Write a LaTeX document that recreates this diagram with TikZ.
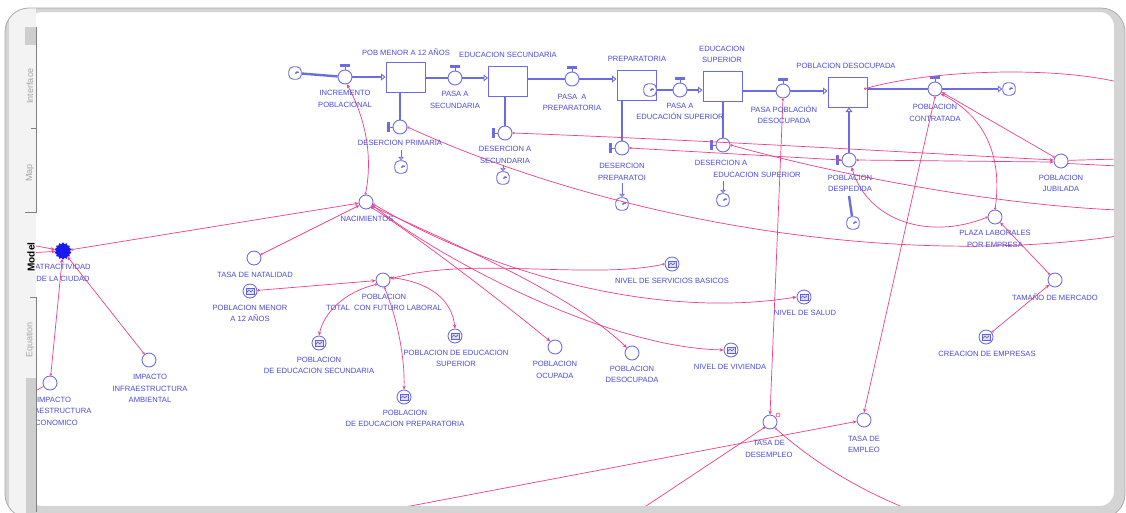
\documentclass[tikz,border=0pt]{standalone}
\usepackage{fontspec}
\setmainfont{Liberation Sans}
\usetikzlibrary{arrows.meta,shapes.geometric,shapes.symbols}

\definecolor{flowblue}{RGB}{108,108,226}
\definecolor{lblblue}{RGB}{74,74,216}
\definecolor{cnvblue}{RGB}{96,96,222}
\definecolor{linkpink}{RGB}{236,64,142}
\definecolor{atrblue}{RGB}{26,26,238}
\definecolor{framegrey}{RGB}{212,212,212}
\definecolor{framedark}{RGB}{170,170,170}
\definecolor{stripgrey}{RGB}{243,243,243}
\definecolor{tabblock}{RGB}{206,206,206}
\definecolor{tabline}{RGB}{128,128,128}
\definecolor{tabtext}{RGB}{165,165,165}

\newcommand\lblfont{\fontsize{7.6}{11.5}\selectfont}
\newcommand\handleup[1]{%
  \draw[flowblue, line width=0.9pt] (#1.north) -- ++(0,-3);
  \fill[flowblue] (#1.north) ++(-5,-3) rectangle ++(10,-2.2);}
\newcommand\handleleft[1]{%
  \draw[flowblue, line width=0.9pt] (#1.west) -- ++(-3,0);
  \fill[flowblue] (#1.west) ++(-3,-5) rectangle ++(-2.2,10);}

\begin{document}
\begin{tikzpicture}[x=1pt,y=-1pt,
  lbl/.style={text=lblblue, font=\lblfont, align=center, inner sep=0pt},
  stock/.style={draw=flowblue, line width=1pt, fill=white, minimum width=39pt, minimum height=30pt, inner sep=0pt},
  conv/.style={circle, draw=cnvblue, line width=0.8pt, fill=white, minimum size=14pt, inner sep=0pt},
  gconv/.style={conv, path picture={
      \draw[cnvblue, line width=0.5pt, fill=cnvblue!22, shift={(path picture bounding box.center)}] (-4.2,-2.8) rectangle (4.2,2.8);
      \draw[cnvblue!70!black, line width=0.45pt, shift={(path picture bounding box.center)}] (-3,1.2) -- (-1.2,-1) -- (0.8,0.8) -- (3,-1.2);}},
  valve/.style={circle, draw=flowblue, line width=0.9pt, fill=white, minimum size=14pt, inner sep=0pt},
  sink/.style={rectangle, rounded corners=4.5pt, draw=flowblue, line width=0.9pt, fill=white, minimum size=12.5pt, inner sep=0pt,
    path picture={\foreach \a in {0,90,180,270}
      \draw[flowblue, line width=0.8pt, shift={(path picture bounding box.center)}, rotate=\a] (0.6,0.4) .. controls (1.8,-1.2) .. (3.6,-0.6);}},
  blob/.style={star, star points=14, star point ratio=1.22, fill=atrblue, draw=atrblue, line width=0.8pt, minimum size=16pt, inner sep=0pt},
  pipe/.style={draw=flowblue, line width=2.4pt},
  thinpipe/.style={draw=flowblue, line width=1pt, -{Triangle[open, length=3.5pt, width=5.5pt, line width=0.8pt]}},
  tostock/.style={-{Triangle[open, length=4.5pt, width=7pt, line width=0.9pt]}},
  link/.style={draw=linkpink, line width=0.7pt, {Circle[open, length=2.4pt, line width=0.6pt]}-{Stealth[length=4pt, width=3.4pt]}},
  linkin/.style={draw=linkpink, line width=0.7pt, -{Stealth[length=4pt, width=3.4pt]}},
  ray/.style={draw=linkpink, line width=0.7pt, {Circle[open, length=2.4pt, line width=0.6pt]}-},
  plain/.style={draw=linkpink, line width=0.7pt},
  tabtxt/.style={text=tabtext, font=\fontsize{9}{10}\selectfont, rotate=90, inner sep=0pt}
]
\useasboundingbox (0,0) rectangle (1126,512);
\fill[white] (0,0) rectangle (1126,512);

% ---------- stocks ----------
\node[stock] (s1) at (405.5,77) {};
\node[stock] (s2) at (508,81) {};
\node[stock] (s3) at (636.5,85) {};
\node[stock] (s4) at (722.5,86) {};
\node[stock] (s5) at (847.5,92) {};

% ---------- clouds ----------
\node[sink] (k0) at (295,73) {};
\node[sink] (k1) at (650,90) {};
\node[sink] (k2) at (1009,89) {};
\node[sink] (k3) at (401,167) {};
\node[sink] (k4) at (503,178) {};
\node[sink] (k5) at (622,204) {};
\node[sink] (k6) at (723,200) {};
\node[sink] (k7) at (853,223) {};

% ---------- valves ----------
\node[valve] (v1) at (345,77) {};
\node[valve] (v2) at (455,78) {};
\node[valve] (v3) at (572,79) {};
\node[valve] (v4) at (680,90) {};
\node[valve] (v5) at (783,91) {};
\node[valve] (v6) at (935,89) {};
\node[valve] (d1) at (400,127) {};
\node[valve] (d2) at (505,133) {};
\node[valve] (d3) at (622,148) {};
\node[valve] (d4) at (723,145) {};
\node[valve] (d5) at (849,160) {};

% ---------- pipes ----------
\draw[pipe] (k0) -- (v1);
\draw[pipe, tostock] (v1) -- (v1 -| s1.west);
\draw[pipe] (s1.east |- v2) -- (v2);
\draw[pipe, tostock] (v2) -- (v2 -| s2.west);
\draw[pipe] (s2.east |- v3) -- (v3);
\draw[pipe, tostock] (v3) -- (v3 -| s3.west);
\draw[pipe] (k1) -- (v4);
\draw[pipe, tostock] (v4) -- (v4 -| s4.west);
\draw[pipe] (s4.east |- v5) -- (v5);
\draw[pipe, tostock] (v5) -- (v5 -| s5.west);
\draw[pipe] (s5.east |- v6) -- (v6);
\draw[pipe, tostock] (v6) -- (k2);

\draw[pipe] (s1.south -| d1) -- (d1);
\draw[pipe] (s2.south -| d2) -- (d2);
\draw[pipe] (s3.south -| d3) -- (d3);
\draw[pipe] (s4.south -| d4) -- (d4);
\coordinate (d1b) at (401,150);
\coordinate (d2b) at (503,165);
\coordinate (d3b) at (622,183);
\coordinate (d4b) at (723,181);
\draw[thinpipe] (d1b) -- (k3);
\draw[thinpipe] (d2b) -- (k4);
\draw[thinpipe] (d3b) -- (k5);
\draw[thinpipe] (d4b) -- (k6);
\coordinate (d5b) at (849,196);
\draw[pipe] (k7) -- (d5b);
\draw[pipe, tostock] (d5) -- (d5 |- s5.south);

\handleup{v1} \handleup{v2} \handleup{v3} \handleup{v4} \handleup{v5} \handleup{v6}
\handleleft{d1} \handleleft{d2} \handleleft{d3} \handleleft{d4} \handleleft{d5}

% ---------- converters ----------
\node[conv] (nac) at (366,202) {};
\node[blob] (atr) at (63,251) {};
\node[conv] (tn) at (254,258) {};
\node[gconv] (pm12) at (250,291) {};
\node[conv] (ptot) at (383,280) {};
\node[gconv] (pes) at (319,343) {};
\node[gconv] (pep) at (404,397) {};
\node[gconv] (pesu) at (455,336) {};
\node[conv] (poc) at (555,347) {};
\node[conv] (pdc) at (632,353) {};
\node[gconv] (nsb) at (672,264) {};
\node[gconv] (nviv) at (731,350) {};
\node[gconv] (nsal) at (804,297) {};
\node[conv] (tdes) at (770,422) {};
\node[conv] (temp) at (864,420) {};
\node[conv] (plaza) at (995,217) {};
\node[conv] (tam) at (1055,280) {};
\node[gconv] (crea) at (986,337) {};
\node[conv] (jub) at (1061,161) {};
\node[conv] (iia) at (149,360) {};
\node[conv] (iie) at (50,383) {};

% ---------- free ends ----------
\coordinate (e1) at (26,244);
\coordinate (e2) at (26,253);
\coordinate (e3) at (26,396);
\coordinate (e4) at (1118,236);
\coordinate (e5) at (1118,159);
\coordinate (e6) at (1118,166);
\coordinate (e7) at (1118,210);
\coordinate (e8) at (1118,82);
\coordinate (e9) at (368,514);
\coordinate (e10) at (634,514);
\coordinate (e11) at (920,514);
\coordinate (s5src) at (864,89);

% ---------- connectors ----------
\draw[link] (atr) -- (nac);
\draw[link] (tn) -- (nac);
\draw[link] (nac.95) .. controls (374,150) and (362,112) .. (v1.-75);
\draw[link] (iia) -- (atr);
\draw[link] (iie) -- (atr);
\draw[linkin] (e1) -- (atr);
\draw[linkin] (e2) -- (atr);
\draw[plain] (iie) -- (e3);
\draw[link] (pm12) -- (ptot);
\draw[link] (ptot.215) .. controls (345,292) and (324,312) .. (pes.north);
\draw[link] (ptot.280) .. controls (398,320) and (405,360) .. (pep.north);
\draw[link] (ptot.20) .. controls (430,282) and (452,300) .. (pesu.north);
\draw[link] (nsb.west) .. controls (590,280) and (470,256) .. (ptot.8);
\draw[link] (nac.-45) .. controls (410,232) and (490,292) .. (poc.130);
\draw[link] (nac.-35) .. controls (440,238) and (570,292) .. (pdc.135);
\draw[link] (nac.-25) .. controls (430,252) and (600,347) .. (nviv.west);
\draw[link] (nac.-15) .. controls (470,262) and (640,322) .. (nsal.west);
\draw[ray] (d1.east) .. controls (600,215) and (880,270) .. (e4);
\draw[link] (d2.east) .. controls (700,140) and (900,152) .. (jub.172);
\draw[link] (d3.east) -- (d5.west);
\draw[link] (d5.east) -- (jub.188);
\draw[plain] (jub.5) -- (e5);
\draw[plain] (jub.-20) -- (e6);
\draw[ray] (d4.east) .. controls (850,178) and (1000,205) .. (e7);
\draw[link] (v5.south) -- (tdes.north);
\draw[link] (v6.south) -- (temp.north);
\draw[link] (plaza.north) .. controls (1002,160) and (988,118) .. (v6.-40);
\draw[link] (jub.150) -- (v6.-25);
\draw[link] (plaza.west) .. controls (930,240) and (868,222) .. (d5.-70);
\draw[link] (tam) -- (plaza);
\draw[link] (crea) -- (tam);
\draw[ray] (s5src) .. controls (930,70) and (1050,66) .. (e8);
\draw[linkin] (e9) -- (temp);
\draw[ray] (tdes.225) -- (e10);
\draw[ray] (tdes.-50) .. controls (820,468) and (870,495) .. (e11);
\node[circle, draw=linkpink, line width=0.6pt, minimum size=4pt, inner sep=0pt] (tdesdot) at (778,415) {};

% ---------- labels ----------
\node[lbl] (l-s1) at (406,52) {POB MENOR A 12 AÑOS};
\node[lbl] (l-s2) at (508,55) {EDUCACION SECUNDARIA};
\node[lbl] (l-s3) at (637,59) {PREPARATORIA};
\node[lbl] (l-s4) at (722,54.5) {EDUCACION\\SUPERIOR};
\node[lbl] (l-s5) at (846,66) {POBLACION DESOCUPADA};
\node[lbl] (l-v1) at (345,99) {INCREMENTO\\POBLACIONAL};
\node[lbl] (l-v2) at (455,100) {PASA A\\SECUNDARIA};
\node[lbl] (l-v3) at (572,102.5) {PASA~ A\\PREPARATORIA};
\node[lbl] (l-v4) at (680,111.5) {PASA A\\EDUCACIÓN SUPERIOR};
\node[lbl] (l-v5) at (784,114.5) {PASA POBLACIÓN\\DESOCUPADA};
\node[lbl] (l-v6) at (935,113) {POBLACION\\CONTRATADA};
\node[lbl] (l-d1) at (400,143) {DESERCION PRIMARIA};
\node[lbl] (l-d2) at (505,155) {DESERCION A\\SECUNDARIA};
\node[lbl] (l-d3) at (622,172) {DESERCION\\PREPARATOI};
\node[lbl] (l-d4a) at (721,163) {DESERCION A};
\node[lbl] (l-d4b) at (757,174.5) {EDUCACION SUPERIOR};
\node[lbl] (l-d5) at (850,183.5) {POBLACION\\DESPEDIDA};
\node[lbl] (l-nac) at (367,219) {NACIMIENTOS};
\node[lbl] (l-atr) at (63,273) {ATRACTIVIDAD\\DE LA CIUDAD};
\node[lbl] (l-tn) at (255,275) {TASA DE NATALIDAD};
\node[lbl] (l-pm12) at (250,313.5) {POBLACION MENOR\\A 12 AÑOS};
\node[lbl] (l-ptot) at (384,302.5) {POBLACION\\TOTAL~ CON FUTURO LABORAL};
\node[lbl] (l-pes) at (319,365.5) {POBLACION\\DE EDUCACION SECUNDARIA};
\node[lbl] (l-pep) at (405,418.5) {POBLACION\\DE EDUCACION PREPARATORIA};
\node[lbl] (l-pesu) at (456,358.5) {POBLACION DE EDUCACION\\SUPERIOR};
\node[lbl] (l-poc) at (555,370) {POBLACION\\OCUPADA};
\node[lbl] (l-pdc) at (632,374.5) {POBLACION\\DESOCUPADA};
\node[lbl] (l-nsb) at (672,281) {NIVEL DE SERVICIOS BASICOS};
\node[lbl] (l-nviv) at (730,367) {NIVEL DE VIVIENDA};
\node[lbl] (l-nsal) at (805,313) {NIVEL DE SALUD};
\node[lbl] (l-tdes) at (769,449) {TASA DE\\DESEMPLEO};
\node[lbl] (l-temp) at (864,444.5) {TASA DE\\EMPLEO};
\node[lbl] (l-plaza) at (995,239) {PLAZA LABORALES\\POR EMPRESA};
\node[lbl] (l-tam) at (1055,297) {TAMAÑO DE MERCADO};
\node[lbl] (l-crea) at (987,354) {CREACION DE EMPRESAS};
\node[lbl] (l-jub) at (1061,183.5) {POBLACION\\JUBILADA};
\node[lbl] (l-iia) at (150,388.5) {IMPACTO\\INFRAESTRUCTURA\\AMBIENTAL};
\node[lbl] (l-iie) at (54,411) {IMPACTO\\INFRAESTRUCTURA\\ECONOMICO};

% ---------- window frame ----------
\fill[framegrey, even odd rule, rounded corners=24] (5,8) rectangle (1125,518)
  [rounded corners=14] (28,12) rectangle (1114,506);
\begin{scope}
  \clip[rounded corners=24] (5,8) rectangle (1125,518);
  \fill[stripgrey] (5,8) rectangle (36,518);
  \fill[framegrey] (5,8) rectangle (9,518);
  \fill[tabblock] (25,27) rectangle (36,45);
  \fill[tabblock] (26,378) rectangle (35.5,518);
\end{scope}
\draw[framedark, line width=0.8pt, rounded corners=24] (5,8) rectangle (1125,518);
\draw[tabline, line width=0.9pt] (25,212) -- (36,212) -- (36,27);
\draw[tabline, line width=0.9pt] (31,128) -- (36,128);
\draw[tabline, line width=0.9pt] (30,297) -- (36,297) -- (36,512);
\node[tabtxt] (tab-int) at (30,86) {Interface};
\node[tabtxt] (tab-map) at (30,173) {Map};
\node[tabtxt, text=black, font=\fontsize{10}{11}\selectfont\bfseries] (tab-mod) at (31,257) {Model};
\node[tabtxt] (tab-eq) at (30,340) {Equation};
\end{tikzpicture}
\end{document}
